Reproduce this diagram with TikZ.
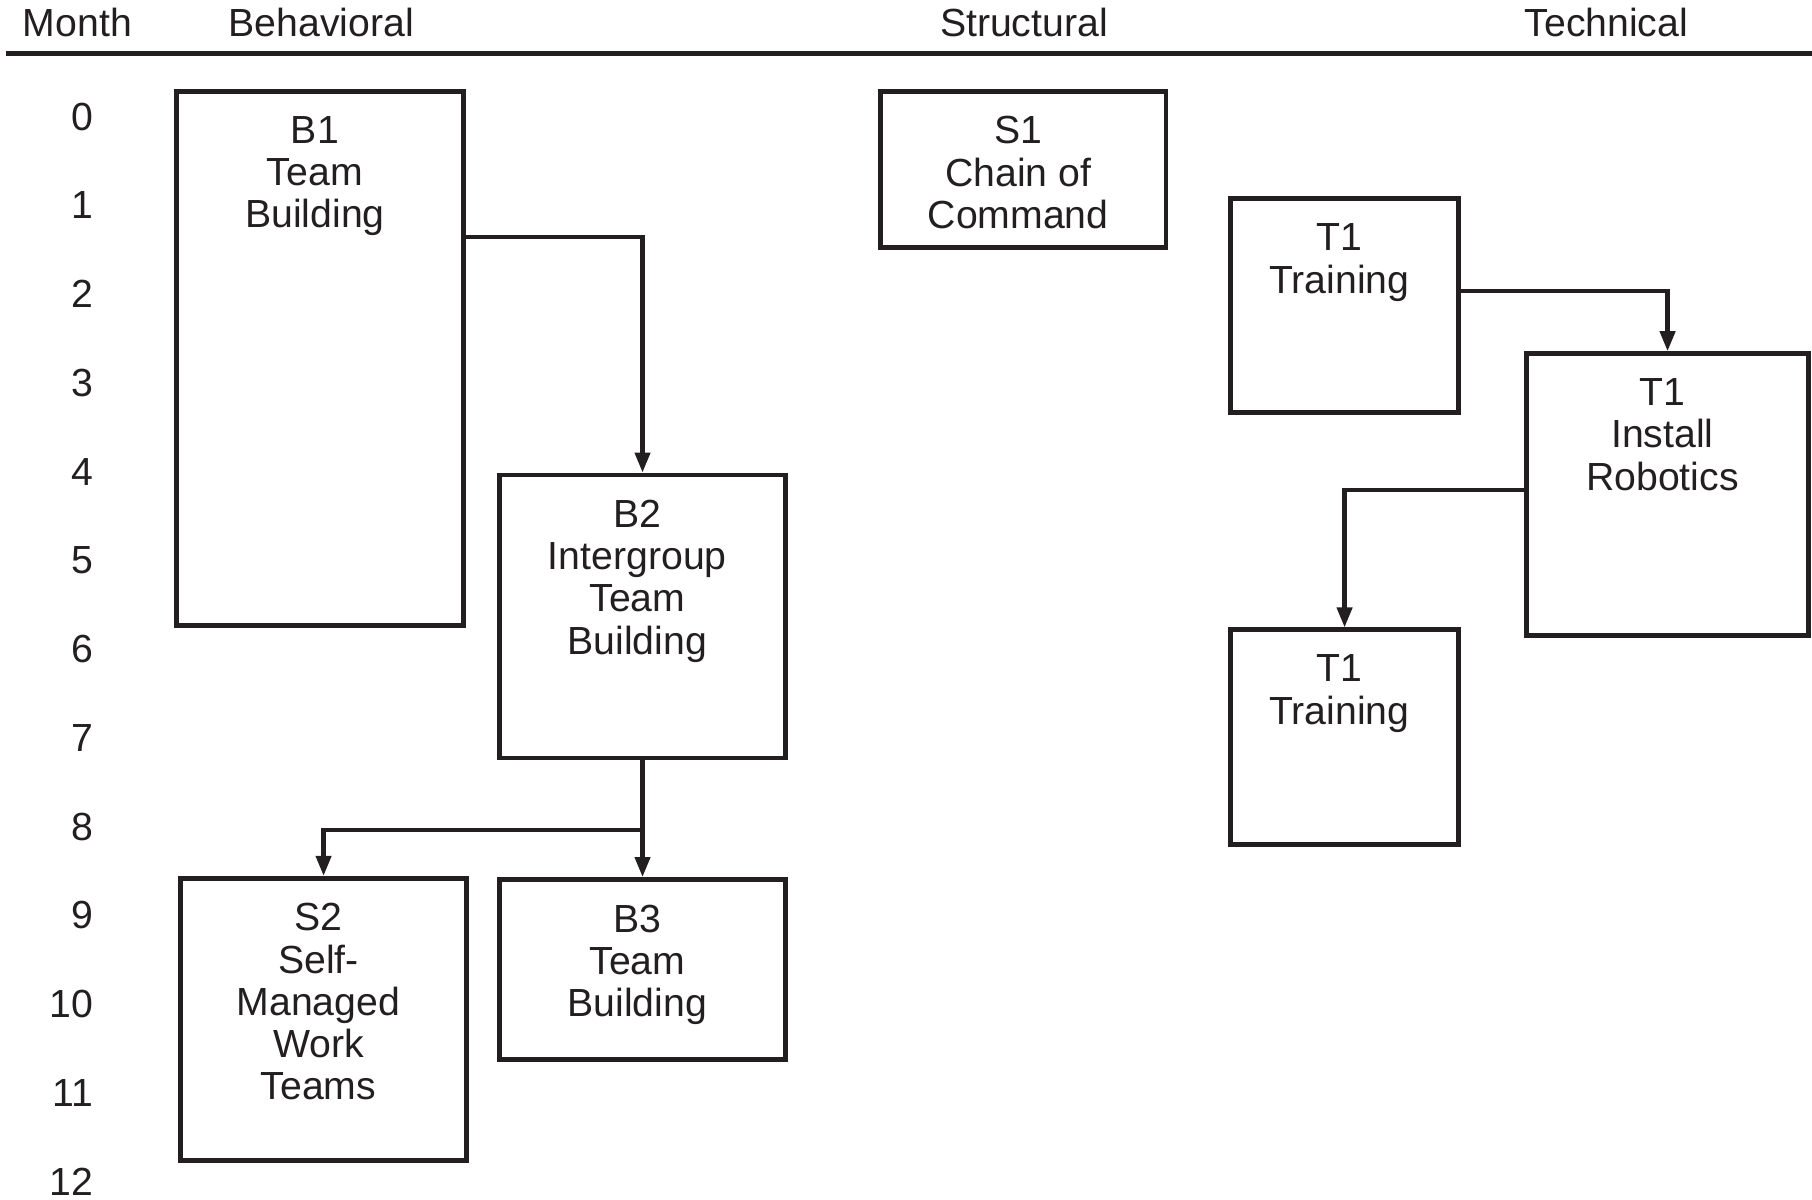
\documentclass[tikz,border=0pt]{standalone}
\usepackage{fontspec}
\setmainfont{Liberation Sans}
\usetikzlibrary{arrows.meta,fit}
\definecolor{ink}{HTML}{231F20}
\begin{document}
\begin{tikzpicture}[x=0.5778pt,y=-0.5778pt,
  box/.style={draw=ink, line width=2.4pt, inner sep=0pt, rectangle},
  lbl/.style={font=\fontsize{19.6pt}{21.1pt}\selectfont, align=center, anchor=north, inner sep=0pt, text=ink},
  arr/.style={draw=ink, line width=2.1pt, -{Triangle[length=10pt,width=7.5pt]}},
  hdr/.style={font=\fontsize{19.6pt}{20.8pt}\selectfont, anchor=base, inner sep=0pt, text=ink},
  mon/.style={font=\fontsize{19.6pt}{20.8pt}\selectfont, anchor=east, inner sep=0pt, text=ink}]
\useasboundingbox (0,0) rectangle (1568,1037.6);

% header
\node[hdr] (hmonth) at (67,32) {Month};
\node[hdr] (hbeh) at (278,32) {Behavioral};
\node[hdr] (hstr) at (886,32) {Structural};
\node[hdr] (htec) at (1390,32) {Technical};
\coordinate (hl) at (5,46);
\coordinate (hr) at (1568,46);
\draw[ink, line width=2.4pt] (hl) -- (hr);

% months
\foreach \m in {0,...,12} {
  \node[mon] (m\m) at (81,{101+76.8*\m}) {\m};
}

% boxes
\node[box, fit={(153,79) (401,541)}] (b1) {};
\node[box, fit={(432,411) (680,656)}] (b2) {};
\node[box, fit={(156,760) (404,1004)}] (s2) {};
\node[box, fit={(432,761) (680,917)}] (b3) {};
\node[box, fit={(762,79) (1009,214)}] (s1) {};
\node[box, fit={(1065,172) (1262,357)}] (t1) {};
\node[box, fit={(1321,306) (1565,550)}] (t2) {};
\node[box, fit={(1065,545) (1262,731)}] (t3) {};

% box texts
\node[lbl] (b1t) at ([xshift=-2.6pt,yshift=-13.6pt]b1.north) {B1\\Team\\Building};
\node[lbl] (b2t) at ([xshift=-2.6pt,yshift=-13.6pt]b2.north) {B2\\Intergroup\\Team\\Building};
\node[lbl] (s2t) at ([xshift=-2.6pt,yshift=-13.6pt]s2.north) {S2\\Self-\\Managed\\Work\\Teams};
\node[lbl] (b3t) at ([xshift=-2.6pt,yshift=-13.6pt]b3.north) {B3\\Team\\Building};
\node[lbl] (s1t) at ([xshift=-2.6pt,yshift=-13.6pt]s1.north) {S1\\Chain of\\Command};
\node[lbl] (t1t) at ([xshift=-2.6pt,yshift=-13.6pt]t1.north) {T1\\Training};
\node[lbl] (t2t) at ([xshift=-2.6pt,yshift=-13.6pt]t2.north) {T1\\Install\\Robotics};
\node[lbl] (t3t) at ([xshift=-2.6pt,yshift=-13.6pt]t3.north) {T1\\Training};

% connectors
\coordinate (c1) at (0,205);
\coordinate (c2) at (0,718);
\coordinate (c3) at (0,252);
\coordinate (c4) at (0,424);
\draw[arr] (b1.east |- c1) -| (b2.north);
\draw[arr] (b2.south) -- (b3.north);
\coordinate (j) at (b2.south |- c2);
\draw[arr] (j) -| (s2.north);
\draw[arr] (t1.east |- c3) -| (t2.north);
\draw[arr] (t2.west |- c4) -| (t3.north);
\end{tikzpicture}
\end{document}
